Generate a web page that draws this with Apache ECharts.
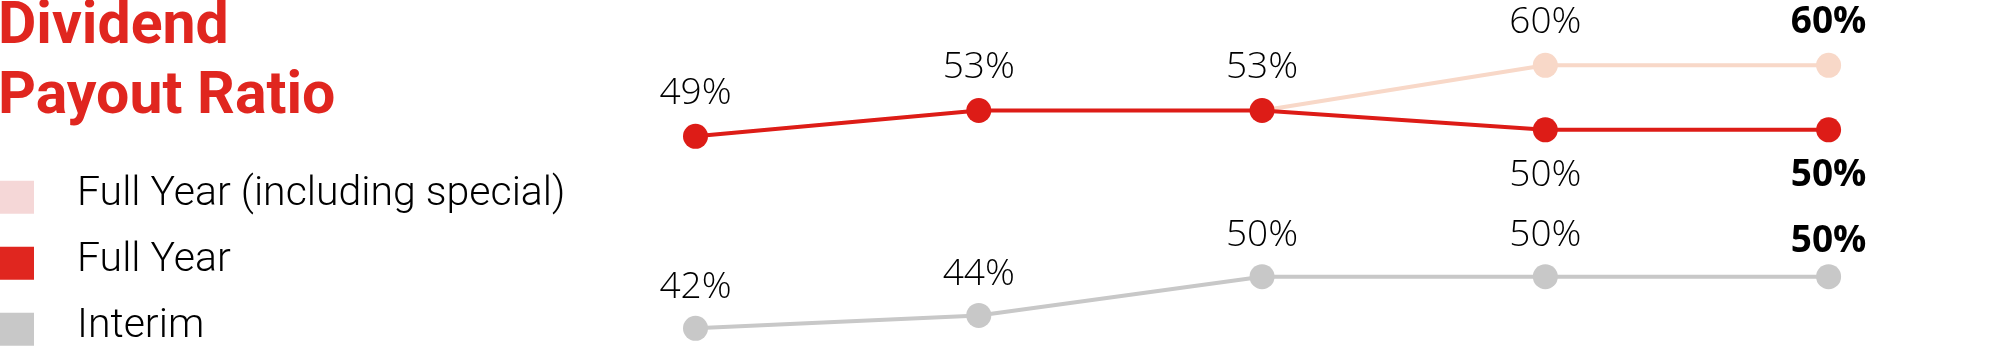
<!DOCTYPE html>
<html>
<head>
<meta charset="utf-8">
<script src="https://cdn.jsdelivr.net/npm/echarts@6/dist/echarts.min.js"></script>
<style>
html,body{margin:0;padding:0;background:#fff;}
#chart{width:2000px;height:347px;}
</style>
</head>
<body>
<div id="chart"></div>
<script>
// ---- data ----
var categories = ["P1", "P2", "P3", "P4", "P5"];
var fullYearSpecial = [null, null, 53, 60, 60];
var fullYear = [49, 53, 53, 50, 50];
var interim = [42, 44, 50, 50, 50];
var seriesNames = ["Full Year (including special)", "Full Year", "Interim"];
var titleText = "Dividend\nPayout Ratio";
var boldIndex = 4;

// ---- styles ----
var RED = "#DD1C17", RED_LEG = "#E0261F", PINK = "#F8D8C8", PINK_LEG = "#F5D7D7", GREY = "#C8C8C8";
var labelBase = { show: true, fontFamily: "Open Sans", fontSize: 37, fontWeight: 300, color: "#000", formatter: "{c}%" };

function makeData(vals, pos, dist, opts) {
  opts = opts || {};
  return vals.map(function (v, i) {
    if (v === null) return null;
    var lbl = Object.assign({}, labelBase, { position: pos[i] || "top", distance: dist[i] });
    if (i === boldIndex) lbl.fontWeight = "bold";
    var item = { value: v, label: lbl };
    if (opts.hide && opts.hide.indexOf(i) >= 0) { item.label = { show: false }; item.symbolSize = 0; }
    return item;
  });
}

var chart = echarts.init(document.getElementById("chart"), null, { renderer: "canvas" });
var option = {
  animation: false,
  title: {
    text: titleText, left: -2, top: -7, padding: 0,
    textStyle: { fontFamily: "Roboto", fontSize: 59, fontWeight: "bold", color: RED_LEG, lineHeight: 70 }
  },
  legend: {
    orient: "vertical", left: 0, top: 173.8, height: 220, padding: 0, icon: "rect",
    itemWidth: 34, itemHeight: 33, itemGap: 19,
    formatter: "{t|{name}}",
    textStyle: {
      padding: [0, 0, 0, 38],
      rich: { t: { fontFamily: "Roboto", fontSize: 41, fontWeight: 300, color: "#000", lineHeight: 33, padding: [0, 0, 6, 0] } }
    },
    data: [
      { name: seriesNames[0], itemStyle: { color: PINK_LEG } },
      { name: seriesNames[1], itemStyle: { color: RED_LEG } },
      { name: seriesNames[2], itemStyle: { color: GREY } }
    ],
    selectedMode: false
  },
  grid: [
    { left: 695.5, right: 171.4, top: 0.85, height: 193.5 },
    { left: 695.5, right: 171.4, top: 244.45, height: 96.75 }
  ],
  xAxis: [
    { type: "category", data: categories, boundaryGap: false, gridIndex: 0, show: false },
    { type: "category", data: categories, boundaryGap: false, gridIndex: 1, show: false }
  ],
  yAxis: [
    { type: "value", min: 40, max: 70, gridIndex: 0, show: false },
    { type: "value", min: 40, max: 55, gridIndex: 1, show: false }
  ],
  series: [
    {
      name: seriesNames[0], type: "line", xAxisIndex: 0, yAxisIndex: 0, z: 2,
      symbol: "circle", symbolSize: 25, lineStyle: { width: 4, color: PINK }, itemStyle: { color: PINK },
      data: makeData(fullYearSpecial, ["top","top","top","top","top"], [12,12,12,12,12], { hide: [2] })
    },
    {
      name: seriesNames[1], type: "line", xAxisIndex: 0, yAxisIndex: 0, z: 3,
      symbol: "circle", symbolSize: 25, lineStyle: { width: 4, color: RED }, itemStyle: { color: RED },
      data: makeData(fullYear, ["top","top","top","bottom","bottom"], [12,12,12,15,15])
    },
    {
      name: seriesNames[2], type: "line", xAxisIndex: 1, yAxisIndex: 1, z: 2,
      symbol: "circle", symbolSize: 25, lineStyle: { width: 4, color: GREY }, itemStyle: { color: GREY },
      data: makeData(interim, ["top","top","top","top","top"], [10,10,10,10,4])
    }
  ]
};
chart.setOption(option);
</script>
</body>
</html>
